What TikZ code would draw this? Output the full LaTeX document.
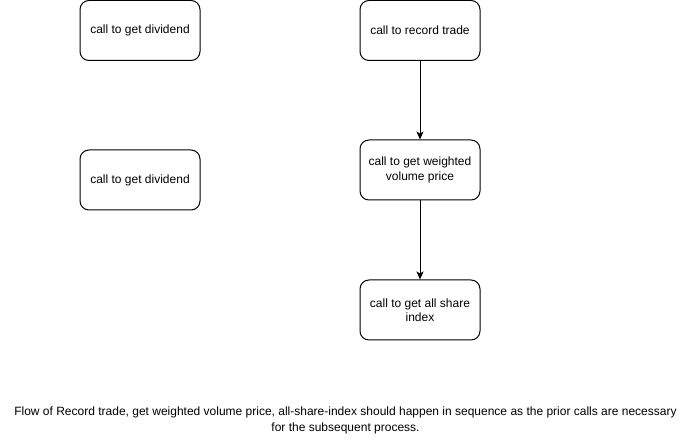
\documentclass[tikz,border=0pt]{standalone}
\usepackage{fontspec}
\setmainfont{Liberation Sans}
\usetikzlibrary{arrows.meta}

\tikzset{every picture/.style={line width=0.75pt}}

\begin{document}
\begin{tikzpicture}[x=0.75pt,y=0.75pt,yscale=-1,xscale=1,
  callbox/.style={draw, rounded corners=6.75pt, minimum width=90pt, minimum height=45pt, align=center, inner sep=0.75pt, font=\fontsize{9}{10.8}\selectfont},
  flow/.style={-{Stealth[length=6pt,width=5.25pt,inset=1.5pt]}}]
%set diagram left start at 0, and has height of 441
\useasboundingbox (0,0) rectangle (690,441);

%Rounded Rect [id:dividendA] 
\node [callbox] (dividendA) at (140,30.5) {call to get dividend};
%Rounded Rect [id:dividendB] 
\node [callbox] (dividendB) at (140,180) {call to get dividend};
%Rounded Rect [id:recordtrade] 
\node [callbox] (recordtrade) at (420,30.5) {call to record trade};
%Rounded Rect [id:weightedprice] 
\node [callbox] (weightedprice) at (420,170) {call to get weighted\\volume price};
%Rounded Rect [id:shareindex] 
\node [callbox] (shareindex) at (420,310) {call to get all share\\index};

%Straight Lines [id:recordtoprice] 
\draw [flow] (recordtrade) -- (weightedprice);
%Straight Lines [id:pricetoindex] 
\draw [flow] (weightedprice) -- (shareindex);

% Text Node
\node [align=center, inner sep=0.75pt, font=\fontsize{9}{12}\selectfont] (flownote) at (345.5,420) {Flow of Record trade, get weighted volume price, all-share-index should happen in sequence as the prior calls are necessary\\for the subsequent process.};

\end{tikzpicture}
\end{document}
